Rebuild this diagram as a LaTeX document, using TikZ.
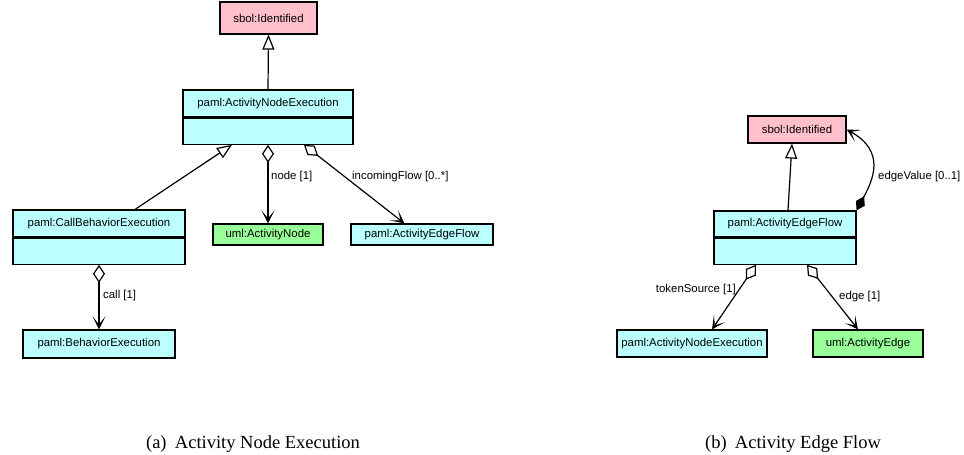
\documentclass[tikz,border=0pt]{standalone}
\usepackage{fontspec}
\setmainfont{Liberation Sans}
\newfontfamily\capfont{Liberation Serif}
\usetikzlibrary{arrows.meta,calc}

\definecolor{idpink}{RGB}{255,192,203}
\definecolor{pamlcyan}{RGB}{187,255,255}
\definecolor{umlgreen}{RGB}{153,255,153}

\begin{document}
\begin{tikzpicture}[x=1pt,y=-1pt,
  every node/.style={font=\fontsize{11.4}{13}\selectfont, inner sep=0pt},
  umlbox/.style={draw, line width=1.2pt, minimum width=#1},
  pinkbox/.style={umlbox=#1, fill=idpink},
  cyanbox/.style={umlbox=#1, fill=pamlcyan},
  greenbox/.style={umlbox=#1, fill=umlgreen},
  link/.style={line width=1.2pt},
  barb/.tip={Stealth[length=13pt,width=13pt,inset=8pt]},
  gen/.style={link, -{Triangle[length=15pt,width=12pt,fill=white]}},
  agg/.style={link, {Diamond[length=18pt,width=12pt,fill=white]}-{barb}},
  comp/.style={link, {Diamond[length=16pt,width=10pt]}-{barb}},
  caption/.style={font=\capfont\fontsize{18.5}{20}\selectfont, anchor=base}
]
\useasboundingbox (0,0) rectangle (964,455);

% ---------- (a) Activity Node Execution ----------
\node[pinkbox=97, minimum height=32] (SIa) at (268.5,18) {sbol:Identified};

\node[cyanbox=170, minimum height=27] (ANEh) at (268,103.5) {paml:ActivityNodeExecution};
\node[cyanbox=170, minimum height=26, anchor=north] (ANEb) at (ANEh.south) {};

\node[cyanbox=172, minimum height=27] (CBEh) at (99,223.5) {paml:CallBehaviorExecution};
\node[cyanbox=172, minimum height=26, anchor=north] (CBEb) at (CBEh.south) {};

\node[cyanbox=152, minimum height=28] (BE) at (99,344) {paml:BehaviorExecution};
\node[greenbox=110, minimum height=21] (AN) at (268,234.5) {uml:ActivityNode};
\node[cyanbox=142, minimum height=21] (AEFa) at (422,234.5) {paml:ActivityEdgeFlow};

\draw[gen] (ANEh.north) -- (SIa.south);
\draw[gen] ($(CBEh.north)+(36,0)$) -- ($(ANEb.south)+(-36,0)$);
\draw[agg] (ANEb.south) -- (AN.north);
\draw[agg] ($(ANEb.south)+(36,0)$) -- ($(AEFa.north west)+(54,0)$);
\draw[agg] (CBEb.south) -- (BE.north);

\node[anchor=west] (lnode) at (271,177) {node [1]};
\node[anchor=west] (lin) at (352,177) {incomingFlow [0..*]};
\node[anchor=west] (lcall) at (103,296) {call [1]};

\node[caption] (capa) at (253,448) {(a)\hspace{0.45em}Activity Node Execution};

% ---------- (b) Activity Edge Flow ----------
\node[pinkbox=98, minimum height=27] (SIb) at (797,129.5) {sbol:Identified};

\node[cyanbox=142, minimum height=26] (AEFh) at (785,224) {paml:ActivityEdgeFlow};
\node[cyanbox=142, minimum height=26, anchor=north] (AEFb) at (AEFh.south) {};

\node[cyanbox=150, minimum height=27] (ANEc) at (692,343.5) {paml:ActivityNodeExecution};
\node[greenbox=110, minimum height=27] (AE) at (868,343.5) {uml:ActivityEdge};

\draw[gen] ($(AEFh.north)+(3,0)$) -- ($(SIb.south)+(-5,0)$);
\draw[agg] ($(AEFb.south)+(-29,0)$) -- ($(ANEc.north)+(20,0)$);
\draw[agg] ($(AEFb.south)+(22,0)$) -- ($(AE.north)+(-10,0)$);
\draw[comp] (AEFh.north east) .. controls +(16,-30) and +(40,22) .. (SIb.east);

\node[anchor=east] (ltok) at (736,290) {tokenSource [1]};
\node[anchor=west] (ledge) at (839,297) {edge [1]};
\node[anchor=west] (lval) at (878,177) {edgeValue [0..1]};

\node[caption] (capb) at (793,448) {(b)\hspace{0.45em}Activity Edge Flow};
\end{tikzpicture}
\end{document}
